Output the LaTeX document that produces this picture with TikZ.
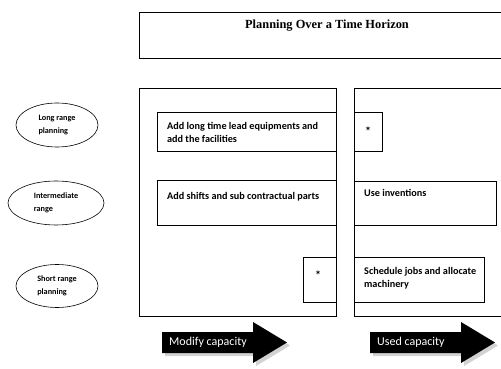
\documentclass[tikz,border=0pt]{standalone}
\usepackage{fontspec}
\setmainfont{Carlito}
\newfontfamily\titlefont{Liberation Serif}
\usetikzlibrary{shapes.geometric}

\begin{document}
\begin{tikzpicture}[x=1pt,y=-1pt,
	frame/.style={draw, line width=0.7pt, anchor=north west, inner sep=0pt},
	horizon/.style={draw, ellipse, line width=0.6pt, inner sep=0pt, align=left, font=\fontsize{8.2}{13.5}\selectfont\bfseries},
	cell/.style={anchor=north west, inner sep=0pt, align=left, font=\fontsize{10.2}{13}\selectfont\bfseries}]
	\useasboundingbox (0,0) rectangle (501,369);
	\fill[white] (0,0) rectangle (501,369);
	\draw
	node[frame, minimum width=370pt, minimum height=46pt] at (139,12) (hor) {}
	node[frame, minimum width=197pt, minimum height=228pt] at (139,88) (mod) {}
	node[frame, minimum width=160pt, minimum height=228pt] at (354,88) (use) {}
	node[frame, minimum width=179pt, minimum height=39pt] at (157,112) (lng) {}
	node[frame, minimum width=179pt, minimum height=45pt] at (157,180) (shf) {}
	node[frame, minimum width=33pt, minimum height=45pt] at (303,257) (sa) {}
	node[frame, minimum width=28pt, minimum height=39pt] at (354,112) (sb) {}
	node[frame, minimum width=142pt, minimum height=44pt] at (354,181) (inv) {}
	node[frame, minimum width=130pt, minimum height=45pt] at (354,257) (sch) {}
	node[horizon, minimum width=82pt, minimum height=44pt] at (57,125) (lr) {Long range\\planning}
	node[horizon, minimum width=96pt, minimum height=44pt] at (56,203) (ir) {Intermediate\\range}
	node[horizon, minimum width=82pt, minimum height=43pt] at (57,286) (sr) {Short range\\planning};
	\node[anchor=base, font=\fontsize{12.4}{14}\selectfont\titlefont\bfseries] at (327,29) (ttl) {Planning Over a Time Horizon};
	\node[cell, anchor=base west] at (167,142) (tlng) {Add long time lead equipments and\\add the facilities};
	\node[cell, anchor=base west] at (167,199) (tshf) {Add shifts and sub contractual parts};
	\node[cell, anchor=base west] at (364,196) (tinv) {Use inventions};
	\node[cell, anchor=base west] at (364,287) (tsch) {Schedule jobs and allocate\\machinery};
	\node[font=\fontsize{12}{12}\selectfont\bfseries] at (318,275) (tsa) {*};
	\node[font=\fontsize{12}{12}\selectfont\bfseries] at (368,131) (tsb) {*};
	\foreach \x/\n/\t in {162/ma/Modify capacity, 370/ua/Used capacity}{
		\fill[gray!35] (\x+3,335) -- ++(91,0) -- ++(0,-10) -- ++(34,20.5) -- ++(-34,20.5) -- ++(0,-10) -- ++(-91,0) -- cycle;
		\fill[black] (\x,332) -- ++(91,0) -- ++(0,-10) -- ++(34,20.5) -- ++(-34,20.5) -- ++(0,-10) -- ++(-91,0) -- cycle;
		\node[anchor=west, text=white, inner sep=0pt, font=\fontsize{12}{14}\selectfont] at (\x+7,342.5) (\n) {\t};
	}
\end{tikzpicture}
\end{document}
